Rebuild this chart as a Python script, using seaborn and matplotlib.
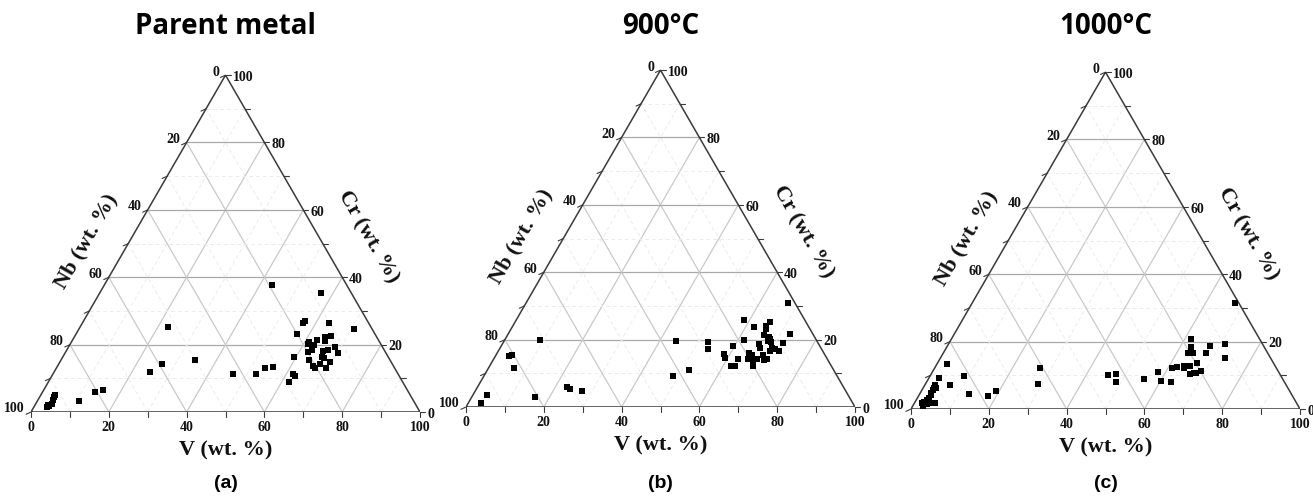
import numpy as np
import pandas as pd
import matplotlib
matplotlib.use("Agg")
import matplotlib.pyplot as plt
import seaborn as sns

# compositions (wt. %), Nb = 100 - V - Cr
pm_v = [43.2, 57.0, 22.5, 56.6, 57.0, 63.3, 70.9, 56.9, 64.4, 65.8, 63.0, 65.0, 61.0, 62.7, 61.1,
        68.4, 66.1, 67.2, 70.2, 62.3, 63.1, 59.4, 63.8, 66.7, 67.3, 69.4, 67.2, 65.7, 66.4, 69.2,
        34.5, 26.7, 24.6, 46.2, 52.1, 53.6, 55.5, 61.7, 62.6, 61.8, 15.3, 13.4, 10.7, 3.7, 3.7,
        4.0, 4.1, 3.8, 3.4, 3.4]
pm_cr = [37.6, 35.3, 25.3, 26.5, 27.0, 26.5, 24.5, 23.1, 22.3, 22.5, 21.3, 21.2, 20.7, 20.0, 20.2,
         19.4, 18.1, 18.4, 17.6, 17.9, 18.3, 16.3, 15.5, 16.3, 16.1, 14.9, 14.2, 13.7, 13.0, 13.1,
         15.5, 14.2, 11.8, 11.3, 11.3, 13.2, 13.4, 11.4, 10.7, 9.0, 6.5, 5.9, 3.2, 5.1, 4.5,
         3.5, 2.5, 1.9, 1.5, 2.1]

t900_v = [67.4, 58.4, 62.2, 65.5, 65.2, 65.5, 72.4, 66.0, 67.5, 68.1, 61.4, 71.9, 67.9, 68.8, 65.8,
          66.8, 69.9, 70.7, 72.2, 69.8, 59.6, 64.8, 65.8, 68.6, 70.3, 69.6, 65.6, 66.9, 65.5, 67.8,
          62.9, 67.0, 67.8, 62.2, 63.1, 59.3, 58.4, 52.6, 53.6, 51.8, 44.2, 48.5, 9.0, 4.2, 3.6,
          6.5, 23.0, 24.2, 27.4, 16.3, 3.6, 3.3]
t900_cr = [30.9, 25.9, 23.6, 25.1, 23.9, 23.3, 21.8, 21.3, 20.8, 20.3, 20.0, 19.1, 19.6, 19.3, 18.8,
           17.6, 17.6, 17.3, 16.5, 16.6, 18.2, 16.0, 15.5, 15.5, 14.1, 13.9, 14.8, 14.3, 14.2, 14.2,
           14.3, 13.4, 12.1, 12.1, 12.1, 14.5, 15.8, 19.2, 17.2, 11.0, 19.6, 9.3, 20.0, 15.4, 15.0,
           11.6, 5.8, 5.3, 4.7, 3.0, 3.6, 1.2]

t1000_v = [67.6, 61.5, 71.2, 67.5, 62.7, 62.8, 64.1, 67.6, 73.2, 66.7, 63.7, 65.3, 62.1, 61.0,
           68.9, 67.3, 66.4, 68.0, 64.1, 58.1, 60.2, 62.9, 55.5, 45.6, 47.4, 48.7, 27.0, 28.9,
           19.2, 17.7, 12.6, 8.7, 6.4, 2.6, 2.7, 3.4, 2.6, 2.7, 2.8, 2.7, 3.1, 3.1, 2.8, 5.3,
           3.6, 2.4, 2.6, 2.5, 2.0, 3.2]
t1000_cr = [31.4, 20.9, 19.2, 18.8, 18.4, 16.7, 16.7, 16.6, 15.1, 13.8, 12.9, 12.7, 12.5, 12.2,
            11.4, 10.7, 10.5, 10.7, 12.1, 10.9, 8.3, 7.9, 9.0, 10.1, 10.5, 8.1, 12.2, 7.5,
            5.4, 4.0, 4.4, 9.9, 7.0, 13.3, 9.1, 6.1, 7.1, 6.3, 5.5, 4.8, 4.2, 3.2, 2.8, 1.8,
            1.8, 2.0, 1.4, 1.0, 1.7, 1.6]

titles = ["Parent metal", "900°C", "1000°C"]
panel_tags = ["(a)", "(b)", "(c)"]
ticks = [0, 20, 40, 60, 80, 100]

H = np.sqrt(3) / 2


def to_xy(v, cr):
    v = np.asarray(v, dtype=float)
    cr = np.asarray(cr, dtype=float)
    return v + cr / 2, cr * H


def draw_frame(ax):
    # minor (dashed, faint) and major grid lines
    for k in range(10, 100, 10):
        major = k % 20 == 0
        if major:
            hcol, scol, ls, lw = "#a9a9a9", "#c9c9c9", "-", 0.9
        else:
            hcol, scol, ls, lw = "#ececec", "#ececec", (0, (4, 3)), 0.7
        # constant Cr (horizontal)
        ax.plot([k / 2, 100 - k / 2], [k * H, k * H], color=hcol, ls=ls, lw=lw, zorder=1)
        # constant V (parallel to left edge)
        ax.plot([k, k + (100 - k) / 2], [0, (100 - k) * H], color=scol, ls=ls, lw=lw, zorder=1)
        # constant Nb (parallel to right edge)
        ax.plot([100 - k, (100 - k) / 2], [0, (100 - k) * H], color=scol, ls=ls, lw=lw, zorder=1)

    ax.plot([0, 100, 50, 0], [0, 0, 100 * H, 0], color="#3a3a3a", lw=1.1, zorder=2,
            solid_joinstyle="miter")

    for k in range(0, 101, 10):
        ax.plot([k, k], [0, -1.3], color="#3a3a3a", lw=0.8, clip_on=False)
        ax.plot([k / 2, k / 2 - 1.3], [k * H, k * H - 0.6], color="#3a3a3a", lw=0.8, clip_on=False)
        ax.plot([100 - k / 2, 100 - k / 2 + 1.3], [k * H, k * H], color="#3a3a3a", lw=0.8,
                clip_on=False)

    tick_kw = dict(fontsize=10, fontweight="bold", family="Liberation Serif", color="#111111")
    for t in ticks:
        ax.text(t, -2.2, str(t), ha="center", va="top", **tick_kw)
        # left axis: Nb, 0 at the apex
        ax.text(t / 2 - 1.6, t * H + 0.8, str(100 - t), ha="right", va="center", **tick_kw)
        # right axis: Cr, 100 at the apex
        ax.text(100 - t / 2 + 1.8, t * H - 0.6, str(t), ha="left", va="center", **tick_kw)

    lab_kw = dict(fontsize=16, fontweight="bold", family="Liberation Serif", color="#111111")
    ax.text(50, -10, "V (wt. %)", ha="center", va="center", **lab_kw)
    ax.text(14.3, 43.8, "Nb (wt. %)", ha="center", va="center", rotation=60, **lab_kw)
    ax.text(86.6, 45.0, "Cr (wt. %)", ha="center", va="center", rotation=-60, **lab_kw)


sns.set_style("white")
plt.rcParams["font.family"] = ["Liberation Serif", "DejaVu Sans"]

fig = plt.figure(figsize=(13.13, 5), dpi=100)
W, HH = 1313, 500
side = 389
# (left px, base px) of each triangle
corners = [(31, 412), (466, 407), (911, 409)]
datasets = [(pm_v, pm_cr), (t900_v, t900_cr), (t1000_v, t1000_cr)]

for i, ((lx, by), (v, cr)) in enumerate(zip(corners, datasets)):
    ax = fig.add_axes([lx / W, (HH - by) / HH, side / W, side * H / HH])
    ax.set_xlim(0, 100)
    ax.set_ylim(0, 100 * H)
    ax.axis("off")
    draw_frame(ax)

    x, y = to_xy(v, cr)
    df = pd.DataFrame({"x": x, "y": y})
    sns.scatterplot(data=df, x="x", y="y", marker="s", s=22, color="black",
                    linewidth=0, ax=ax, zorder=5, clip_on=False)
    ax.set_xlabel("")
    ax.set_ylabel("")

    cx = (lx + side / 2) / W
    fig.text(cx, 1 - 26 / HH, titles[i], ha="center", va="center", fontsize=20,
             fontweight="bold", family="Open Sans", color="black")
    fig.text(cx, 1 - 484 / HH, panel_tags[i], ha="center", va="center", fontsize=14,
             fontweight="bold", family="Liberation Sans", color="black")

fig.savefig("out.png", dpi=100, facecolor="white")
